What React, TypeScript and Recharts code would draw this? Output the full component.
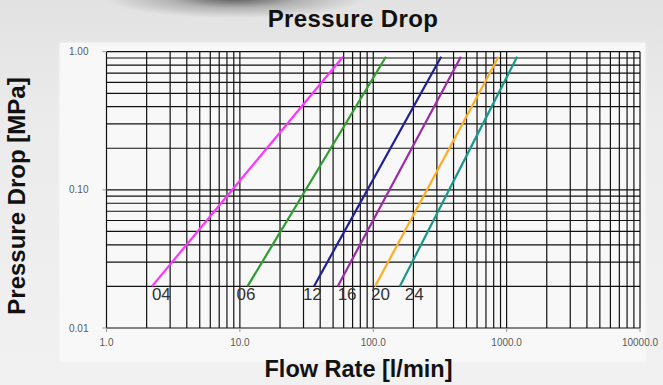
import React from "react";
import { LineChart, Line, XAxis, YAxis, ReferenceLine, LabelList } from "recharts";

// Valve sizes and their pressure-drop curves (straight lines on log-log axes)
const seriesNames = ["04", "06", "12", "16", "20", "24"];
const flowStart = [2.19, 11.4, 35.9, 54.1, 103, 158];
const flowEnd = [59.3, 124.5, 323, 454, 871, 1200];
const pressureStart = [0.02, 0.02, 0.02, 0.02, 0.02, 0.02];
const pressureEnd = [0.92, 0.92, 0.92, 0.92, 0.92, 0.92];

// Axis ticks and their labels
const xTicks = [1, 10, 100, 1000, 10000];
const xTickLabels = ["1.0", "10.0", "100.0", "1000.0", "10000.0"];
const yTicks = [0.01, 0.1, 1];
const yTickLabels = ["0.01", "0.10", "1.00"];

// Logarithmic grid values
const xGrid = [
  1, 2, 3, 4, 5, 6, 7, 8, 9,
  10, 20, 30, 40, 50, 60, 70, 80, 90,
  100, 200, 300, 400, 500, 600, 700, 800, 900,
  1000, 2000, 3000, 4000, 5000, 6000, 7000, 8000, 9000,
  10000,
];
const yGrid = [
  0.01, 0.02, 0.03, 0.04, 0.05, 0.06, 0.07, 0.08, 0.09,
  0.1, 0.2, 0.3, 0.4, 0.5, 0.6, 0.7, 0.8, 0.9,
  1,
];

const seriesColors = ["#ff33ff", "#2e9e2e", "#1f1f96", "#9b2ba8", "#ffad22", "#17998a"];
const labelShift = [0, -11, -11, 0, -4, 5];

const W = 663;
const H = 385;
const FONT = "'Liberation Sans', Arial, sans-serif";

export default function App() {
  const series = seriesNames.map((name, i) => ({
    name,
    color: seriesColors[i],
    shift: labelShift[i],
    data: [
      { q: flowStart[i], p: pressureStart[i] },
      { q: flowEnd[i], p: pressureEnd[i] },
    ],
  }));

  return (
    <div
      style={{
        position: "absolute",
        left: 0,
        top: 0,
        width: W,
        height: H,
        overflow: "hidden",
        background:
          "radial-gradient(ellipse 130px 20px at 235px -2px, rgba(40,40,40,0.75), rgba(90,90,90,0.35) 50%, rgba(200,200,200,0) 100%), linear-gradient(180deg, #e2e2e2 0%, #ebebeb 30%, #f1f1f1 100%)",
      }}
    >
      <div
        style={{
          position: "absolute",
          left: 60,
          top: 43,
          width: 585,
          height: 318,
          background: "#f8f8f8",
          boxShadow: "0 0 3px rgba(255,255,255,0.9)",
        }}
      />
      <div style={{ position: "absolute", left: 0, top: 0 }}>
        <LineChart
          width={W}
          height={H}
          margin={{ top: 51.7, right: 23, bottom: 32, left: 66.5 }}
        >
          <XAxis
            dataKey="q"
            type="number"
            scale="log"
            domain={[1, 10000]}
            ticks={xTicks}
            allowDataOverflow
            height={25}
            axisLine={false}
            tickLine={{ stroke: "#9a9a9a" }}
            tickSize={4}
            tickMargin={7}
            tick={{ fill: "#5a5a5a", fontSize: 10, fontFamily: FONT }}
            tickFormatter={(v: number, i: number) => xTickLabels[i]}
          />
          <YAxis
            dataKey="p"
            type="number"
            scale="log"
            domain={[0.01, 1]}
            ticks={yTicks}
            allowDataOverflow
            width={40}
            axisLine={false}
            tickLine={{ stroke: "#9a9a9a" }}
            tickSize={4}
            tickMargin={14}
            tick={{ fill: "#5a5a5a", fontSize: 10, fontFamily: FONT }}
            tickFormatter={(v: number, i: number) => yTickLabels[i]}
          />
          {xGrid.map((v) => (
            <ReferenceLine key={"x" + v} x={v} stroke="#111" strokeWidth={1.2} />
          ))}
          {yGrid.map((v) => (
            <ReferenceLine key={"y" + v} y={v} stroke="#111" strokeWidth={1.2} />
          ))}
          {series.map((s) => (
            <Line
              key={s.name}
              data={s.data}
              dataKey="p"
              name={s.name}
              stroke={s.color}
              strokeWidth={2.2}
              dot={false}
              isAnimationActive={false}
            >
              <LabelList
                dataKey="p"
                content={(props: any) =>
                  props.index === 0 ? (
                    <text
                      x={props.x + s.shift}
                      y={props.y + 14}
                      fill="#333"
                      fontSize={17}
                      fontFamily={FONT}
                    >
                      {s.name}
                    </text>
                  ) : null
                }
              />
            </Line>
          ))}
        </LineChart>
      </div>
      <svg
        width={W}
        height={H}
        style={{ position: "absolute", left: 0, top: 0, pointerEvents: "none" }}
      >
        <text
          x={353}
          y={27}
          textAnchor="middle"
          fontFamily={FONT}
          fontWeight="bold"
          fontSize={24}
          letterSpacing={0.4}
          fill="#111"
        >
          Pressure Drop
        </text>
        <text
          x={358.5}
          y={377}
          textAnchor="middle"
          fontFamily={FONT}
          fontWeight="bold"
          fontSize={23.5}
          fill="#111"
        >
          Flow Rate [l/min]
        </text>
        <text
          transform="translate(25,196) rotate(-90)"
          textAnchor="middle"
          fontFamily={FONT}
          fontWeight="bold"
          fontSize={24}
          fill="#111"
        >
          Pressure Drop [MPa]
        </text>
      </svg>
    </div>
  );
}
